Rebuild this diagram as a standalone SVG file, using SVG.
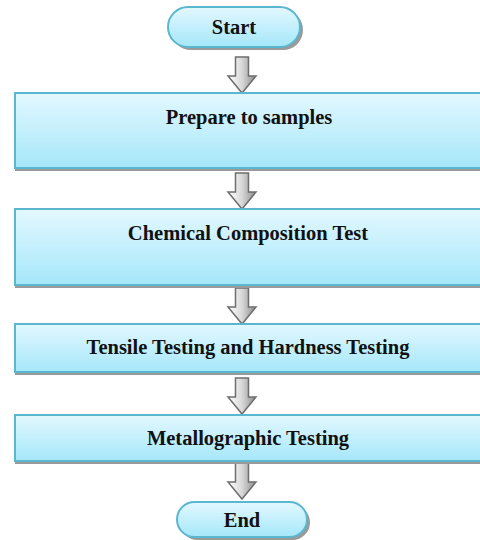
<svg xmlns="http://www.w3.org/2000/svg" width="480" height="540" viewBox="0 0 480 540">
  <defs>
    <linearGradient id="fillBlue" x1="0" y1="0" x2="0" y2="1">
      <stop offset="0" stop-color="#e3f8ff"/>
      <stop offset="1" stop-color="#a5e7f9"/>
    </linearGradient>
    <linearGradient id="fillArrow" x1="0" y1="0" x2="1" y2="0">
      <stop offset="0" stop-color="#ffffff"/>
      <stop offset="0.5" stop-color="#d8d8d8"/>
      <stop offset="1" stop-color="#8a8a8a"/>
    </linearGradient>
    <!-- block arrow pointing down, origin at the tip -->
    <path id="blockArrow" d="M-6.5,-36 H6.5 V-17 H14 L0,0 L-14,-17 H-6.5 Z"/>
  </defs>
  <style>
    .shadow { fill: #9a9a9a; }
    .box { fill: url(#fillBlue); stroke: #5ab7cf; stroke-width: 2; }
    .label { font-family: "Liberation Serif", "Times New Roman", serif; font-weight: bold; font-size: 20.5px; fill: #111; text-anchor: middle; }
    .arrow { fill: url(#fillArrow); stroke: #6e6e6e; stroke-width: 1.5; stroke-linejoin: miter; }
  </style>

  <!-- connectors -->
  <g id="connectors">
    <use href="#blockArrow" class="arrow" x="242" y="93"/>
    <use href="#blockArrow" class="arrow" x="242" y="209"/>
    <use href="#blockArrow" class="arrow" x="242" y="324"/>
    <use href="#blockArrow" class="arrow" x="242" y="414"/>
    <use href="#blockArrow" class="arrow" x="242" y="499"/>
  </g>

  <g id="start">
    <rect class="shadow" x="171" y="10" width="132" height="40" rx="20"/>
    <rect class="box" x="168" y="7" width="132" height="40" rx="20"/>
    <text class="label" x="234" y="34">Start</text>
  </g>

  <g id="prepare">
    <rect class="shadow" x="15" y="96" width="470" height="75"/>
    <rect class="box" x="15" y="93" width="470" height="75"/>
    <text class="label" x="249" y="124">Prepare to samples</text>
  </g>

  <g id="chemical">
    <rect class="shadow" x="15" y="212" width="470" height="76"/>
    <rect class="box" x="15" y="209" width="470" height="76"/>
    <text class="label" x="248" y="240">Chemical Composition Test</text>
  </g>

  <g id="tensile">
    <rect class="shadow" x="15" y="327" width="470" height="48"/>
    <rect class="box" x="15" y="324" width="470" height="48"/>
    <text class="label" x="248" y="354">Tensile Testing and Hardness Testing</text>
  </g>

  <g id="metallographic">
    <rect class="shadow" x="15" y="418" width="470" height="46"/>
    <rect class="box" x="15" y="415" width="470" height="46"/>
    <text class="label" x="248" y="445">Metallographic Testing</text>
  </g>

  <g id="end">
    <rect class="shadow" x="180" y="505" width="130" height="35" rx="17.5"/>
    <rect class="box" x="177" y="502" width="130" height="35" rx="17.5"/>
    <text class="label" x="242" y="527">End</text>
  </g>
</svg>
